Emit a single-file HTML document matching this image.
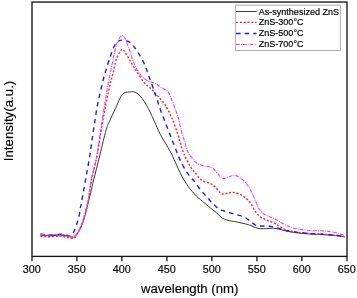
<!DOCTYPE html>
<html lang="en">
<head>
<meta charset="utf-8">
<title>PL spectra of ZnS</title>
<style>
html,body{margin:0;padding:0;background:#ffffff;}
body{width:357px;height:298px;overflow:hidden;}
</style>
</head>
<body>
<svg width="357" height="298" viewBox="0 0 357 298" style="display:block;will-change:transform">
<rect x="0" y="0" width="357" height="298" fill="#ffffff"/>
<g fill="none" stroke-linecap="butt" stroke-linejoin="round">
<path d="M40.5 235.4 C41.2 235.4 43.4 235.6 45.0 235.7 C46.6 235.8 48.3 235.8 50.0 235.8 C51.7 235.8 53.3 235.6 55.0 235.5 C56.7 235.4 58.5 235.1 60.0 235.1 C61.5 235.1 62.7 235.2 64.0 235.4 C65.3 235.6 66.7 236.0 68.0 236.3 C69.3 236.6 70.8 237.1 72.0 237.2 C73.2 237.2 74.2 237.2 75.0 236.6 C75.8 236.0 76.0 235.2 76.9 233.8 C77.8 232.4 79.4 230.3 80.5 228.2 C81.6 226.1 82.5 223.5 83.3 221.2 C84.1 218.8 84.8 216.5 85.4 214.1 C86.0 211.7 86.5 209.3 87.1 207.0 C87.7 204.7 87.9 204.3 88.9 200.0 C90.0 195.7 91.6 188.5 93.4 181.0 C95.2 173.5 97.8 163.5 99.9 155.0 C102.0 146.5 104.4 135.8 106.1 130.0 C107.8 124.2 108.4 123.7 110.0 120.1 C111.6 116.5 113.9 111.8 115.6 108.2 C117.2 104.6 118.7 100.7 119.9 98.3 C121.1 95.9 121.8 95.1 122.7 94.1 C123.6 93.1 124.3 92.8 125.5 92.4 C126.7 92.1 128.4 92.1 129.7 92.0 C131.0 91.9 132.0 91.5 133.2 91.7 C134.4 91.9 135.6 92.2 136.8 93.0 C138.0 93.8 139.0 94.7 140.3 96.2 C141.6 97.7 143.1 99.7 144.5 101.8 C145.9 103.9 147.3 106.7 148.5 108.9 C149.7 111.1 150.6 113.1 151.6 115.2 C152.6 117.3 153.0 118.3 154.4 121.5 C155.8 124.7 158.1 130.1 160.1 134.1 C162.1 138.1 164.7 141.9 166.7 145.3 C168.7 148.7 170.5 151.8 171.9 154.6 C173.3 157.3 173.4 158.2 175.1 161.8 C176.8 165.4 179.6 171.8 181.8 176.0 C184.1 180.2 186.3 183.8 188.6 187.0 C190.8 190.2 193.4 192.8 195.3 194.9 C197.2 197.0 198.7 198.2 200.3 199.6 C201.9 201.0 203.1 201.8 205.0 203.4 C206.9 205.0 209.9 207.5 211.7 209.0 C213.5 210.5 214.7 211.2 216.0 212.3 C217.3 213.4 218.3 214.8 219.4 215.8 C220.5 216.8 221.5 217.6 222.7 218.3 C223.9 219.0 225.3 219.5 226.8 220.0 C228.3 220.5 229.9 220.8 231.5 221.1 C233.1 221.4 234.4 221.5 236.2 221.8 C237.9 222.2 239.9 222.7 242.0 223.2 C244.1 223.7 246.5 224.0 248.7 224.7 C250.9 225.4 253.3 226.8 255.2 227.5 C257.1 228.2 258.4 228.5 260.3 228.7 C262.2 228.9 264.6 228.7 266.8 228.6 C269.0 228.5 271.5 228.1 273.5 228.2 C275.5 228.3 276.6 228.7 278.6 229.1 C280.6 229.5 282.8 230.2 285.3 230.8 C287.8 231.4 290.9 232.0 293.7 232.4 C296.5 232.8 299.4 233.1 302.1 233.4 C304.8 233.7 307.8 233.8 310.0 234.0 C312.2 234.2 312.6 234.2 315.2 234.3 C317.8 234.4 321.9 234.6 325.3 234.8 C328.7 235.0 332.1 235.2 335.3 235.6 C338.5 235.9 343.1 236.7 344.6 236.9" stroke="#383838" stroke-width="1.0"/>
<path d="M40.5 236.3 C41.2 236.4 43.4 236.5 45.0 236.6 C46.6 236.7 48.3 236.7 50.0 236.7 C51.7 236.7 53.3 236.5 55.0 236.4 C56.7 236.3 58.5 236.0 60.0 236.0 C61.5 236.0 62.7 236.2 64.0 236.5 C65.3 236.8 66.7 237.3 68.0 237.6 C69.3 237.9 70.8 238.3 72.0 238.3 C73.2 238.3 74.2 238.1 75.0 237.4 C75.8 236.7 76.2 235.8 77.0 234.3 C77.8 232.8 79.0 230.7 80.0 228.5 C81.0 226.3 82.1 223.6 82.9 221.2 C83.7 218.8 84.3 216.5 85.0 214.1 C85.7 211.7 86.2 209.3 86.8 207.0 C87.4 204.7 87.6 204.5 88.4 200.0 C89.2 195.5 90.0 187.5 91.5 180.0 C93.0 172.5 95.6 163.3 97.2 155.0 C98.8 146.7 99.8 138.3 101.2 130.0 C102.6 121.7 104.2 112.6 105.7 105.0 C107.2 97.4 108.9 89.4 110.1 84.2 C111.3 79.0 112.0 77.8 113.0 73.7 C114.0 69.6 115.3 62.6 116.1 59.7 C116.9 56.8 116.9 57.5 117.6 56.2 C118.3 54.9 119.5 52.7 120.1 51.7 C120.7 50.7 120.8 50.4 121.2 50.0 C121.6 49.6 121.9 49.2 122.3 49.2 C122.7 49.2 123.1 49.6 123.5 50.0 C123.9 50.4 124.1 50.8 124.7 51.7 C125.3 52.7 126.5 54.5 127.2 55.7 C128.0 57.0 128.6 58.2 129.2 59.2 C129.8 60.2 130.1 60.8 130.8 62.0 C131.5 63.2 132.5 64.9 133.5 66.5 C134.5 68.1 135.1 69.1 136.9 71.8 C138.7 74.5 141.8 79.8 144.3 82.7 C146.8 85.6 149.4 87.0 151.8 89.4 C154.2 91.8 156.5 94.6 158.6 97.0 C160.7 99.4 163.1 101.8 164.5 103.7 C165.9 105.7 166.0 106.2 167.3 108.7 C168.6 111.2 170.6 114.8 172.1 118.4 C173.6 122.0 175.1 126.4 176.4 130.2 C177.7 134.0 178.7 137.5 179.8 141.1 C180.9 144.7 182.0 148.6 183.0 151.5 C184.0 154.4 184.7 155.7 186.0 158.4 C187.3 161.1 189.5 165.1 191.1 167.6 C192.7 170.1 193.7 171.1 195.5 173.2 C197.3 175.3 199.3 178.5 201.7 180.2 C204.1 181.9 207.8 182.4 210.1 183.5 C212.3 184.6 213.5 185.3 215.2 186.9 C216.9 188.5 218.7 191.6 220.2 192.8 C221.7 194.0 223.0 194.1 224.4 194.1 C225.8 194.1 227.1 193.1 228.6 192.8 C230.1 192.5 231.9 192.3 233.7 192.5 C235.5 192.7 237.6 193.1 239.5 194.0 C241.4 194.9 243.6 196.3 245.4 197.8 C247.2 199.3 249.0 200.8 250.6 203.0 C252.2 205.2 253.4 208.6 255.0 210.9 C256.6 213.2 258.1 215.2 260.1 216.8 C262.1 218.4 264.6 219.2 266.8 220.2 C269.0 221.2 271.2 221.6 273.5 222.7 C275.8 223.8 278.1 225.6 280.3 226.9 C282.6 228.2 284.8 229.5 287.0 230.3 C289.2 231.1 291.2 231.2 293.7 231.6 C296.2 232.0 299.4 232.5 302.1 232.8 C304.8 233.1 307.8 233.4 310.0 233.6 C312.2 233.8 312.6 233.8 315.2 233.9 C317.8 234.0 321.9 234.2 325.3 234.4 C328.7 234.6 332.1 234.8 335.3 235.2 C338.5 235.6 343.1 236.4 344.6 236.7" stroke="#ff2222" stroke-width="1.4" stroke-dasharray="2 1.8"/>
<path d="M40.5 233.9 C41.2 234.0 43.4 234.4 45.0 234.6 C46.6 234.8 48.3 235.0 50.0 235.0 C51.7 235.0 53.3 234.9 55.0 234.8 C56.7 234.7 58.5 234.2 60.0 234.2 C61.5 234.2 62.7 234.5 64.0 234.7 C65.3 234.9 66.9 235.4 68.0 235.6 C69.1 235.8 69.7 236.0 70.5 235.8 C71.3 235.6 72.1 234.8 72.6 234.2 C73.1 233.6 73.1 233.2 73.6 232.2 C74.1 231.2 74.8 230.0 75.5 228.2 C76.2 226.4 76.9 223.5 77.6 221.2 C78.3 218.8 79.0 216.5 79.5 214.1 C80.0 211.7 80.2 208.9 80.5 207.0 C80.8 205.1 80.6 207.3 81.4 202.8 C82.2 198.3 84.1 188.0 85.5 180.0 C86.9 172.0 88.6 163.3 89.9 155.0 C91.2 146.7 92.2 138.3 93.5 130.0 C94.8 121.7 95.9 113.3 97.5 105.0 C99.1 96.7 101.8 85.8 103.2 80.0 C104.6 74.2 104.8 74.2 105.9 70.4 C107.1 66.6 108.7 61.0 110.1 56.9 C111.5 52.8 112.9 48.6 114.3 46.0 C115.7 43.4 117.2 42.0 118.5 41.0 C119.8 40.0 120.5 40.1 121.8 40.1 C123.0 40.1 124.6 40.4 126.0 40.8 C127.4 41.2 128.6 41.2 130.3 42.6 C132.0 44.0 134.3 46.9 136.1 49.4 C137.9 51.9 139.6 55.0 141.2 57.8 C142.8 60.6 144.3 63.6 145.4 66.2 C146.5 68.9 147.0 71.1 147.9 73.7 C148.8 76.3 149.9 78.8 151.0 81.8 C152.1 84.8 153.4 89.1 154.4 91.9 C155.4 94.7 156.1 96.2 156.9 98.7 C157.7 101.2 158.2 103.4 159.4 107.0 C160.7 110.6 162.6 115.4 164.4 120.1 C166.2 124.8 168.6 131.0 170.3 135.3 C172.0 139.7 173.2 143.0 174.5 146.2 C175.8 149.4 176.7 152.0 177.8 154.6 C178.9 157.2 179.6 159.1 181.0 161.8 C182.4 164.5 184.3 168.3 186.0 171.0 C187.7 173.7 189.5 175.7 191.1 177.7 C192.7 179.7 193.9 180.7 195.5 182.8 C197.1 184.9 199.0 188.0 200.9 190.3 C202.8 192.6 204.8 194.5 206.7 196.7 C208.6 198.9 210.6 201.4 212.6 203.4 C214.6 205.4 216.9 207.7 218.5 208.9 C220.1 210.1 221.0 209.9 222.4 210.4 C223.8 210.9 224.9 211.2 227.1 211.9 C229.3 212.6 232.6 213.6 235.4 214.4 C238.2 215.2 241.2 215.7 243.7 216.8 C246.2 217.9 248.3 219.7 250.2 221.0 C252.1 222.3 253.5 224.1 255.2 224.9 C256.9 225.7 258.4 225.8 260.3 226.0 C262.2 226.2 264.6 225.8 266.8 226.0 C269.0 226.2 271.2 226.4 273.5 226.9 C275.8 227.4 278.1 228.2 280.3 228.9 C282.6 229.6 284.8 230.3 287.0 230.8 C289.2 231.3 291.2 231.6 293.7 231.9 C296.2 232.2 299.4 232.5 302.1 232.8 C304.8 233.1 307.8 233.4 310.0 233.6 C312.2 233.8 312.6 233.8 315.2 233.9 C317.8 234.0 321.9 234.2 325.3 234.4 C328.7 234.6 332.1 234.8 335.3 235.2 C338.5 235.6 343.1 236.4 344.6 236.7" stroke="#1a1aff" stroke-width="1.4" stroke-dasharray="4.5 4.1"/>
<path d="M40.5 234.4 C41.2 234.4 43.4 234.6 45.0 234.7 C46.6 234.8 48.3 234.8 50.0 234.8 C51.7 234.8 53.3 234.6 55.0 234.5 C56.7 234.4 58.5 234.1 60.0 234.1 C61.5 234.1 62.7 234.2 64.0 234.5 C65.3 234.8 66.7 235.4 68.0 235.8 C69.3 236.2 70.9 236.8 72.0 236.9 C73.1 237.0 73.7 236.9 74.5 236.4 C75.3 235.9 75.7 235.2 76.6 233.8 C77.5 232.4 79.0 230.3 80.0 228.2 C81.0 226.1 82.0 223.5 82.8 221.2 C83.6 218.8 84.3 216.5 84.9 214.1 C85.5 211.7 86.0 209.3 86.6 207.0 C87.1 204.7 87.4 204.5 88.2 200.0 C89.0 195.5 89.7 187.5 91.2 180.0 C92.7 172.5 95.4 163.3 97.0 155.0 C98.6 146.7 99.5 138.3 100.8 130.0 C102.1 121.7 103.3 113.0 104.6 105.0 C105.9 97.0 107.5 87.2 108.4 82.0 C109.3 76.8 109.4 77.6 110.2 73.7 C111.0 69.8 112.6 61.9 113.2 58.6 C113.8 55.4 113.6 56.3 114.1 54.2 C114.6 52.1 115.3 48.7 116.1 46.1 C116.9 43.5 118.3 40.2 119.1 38.6 C119.8 37.0 120.1 37.0 120.6 36.4 C121.1 35.8 121.5 35.3 121.9 35.3 C122.4 35.3 122.8 35.7 123.3 36.2 C123.8 36.8 124.5 37.1 125.2 38.6 C125.9 40.1 126.8 42.7 127.7 45.1 C128.6 47.5 129.9 50.8 130.7 53.2 C131.5 55.6 131.7 57.3 132.5 59.5 C133.3 61.7 134.5 64.5 135.5 66.5 C136.5 68.5 137.1 69.9 138.4 71.8 C139.7 73.7 141.5 76.2 143.1 77.7 C144.7 79.2 146.6 80.2 148.2 81.0 C149.8 81.8 151.2 82.0 152.6 82.5 C154.0 83.0 155.2 83.4 156.5 84.1 C157.8 84.8 158.7 85.7 160.1 86.6 C161.5 87.5 163.8 88.7 165.1 89.6 C166.4 90.5 167.2 90.8 168.1 91.8 C168.9 92.8 169.6 94.3 170.2 95.6 C170.8 96.9 171.2 98.4 171.7 99.7 C172.2 101.0 172.7 101.9 173.2 103.2 C173.7 104.5 173.9 105.3 174.7 107.7 C175.5 110.1 177.1 113.8 178.2 117.6 C179.3 121.3 180.1 126.1 181.2 130.2 C182.3 134.3 183.7 138.4 184.8 142.0 C185.9 145.6 186.6 149.1 187.7 151.5 C188.8 153.9 189.7 154.8 191.1 156.7 C192.5 158.5 194.0 161.1 196.1 162.6 C198.2 164.1 200.8 165.1 203.4 165.9 C206.0 166.7 209.6 166.5 211.8 167.6 C214.0 168.7 215.2 170.9 216.8 172.6 C218.4 174.3 219.8 176.6 221.1 177.6 C222.4 178.6 223.0 178.7 224.4 178.5 C225.8 178.3 228.1 177.0 229.5 176.5 C230.9 176.0 231.9 175.8 233.0 175.7 C234.1 175.5 234.6 175.2 235.9 175.6 C237.2 176.0 239.0 177.1 240.6 178.2 C242.2 179.3 243.9 180.9 245.3 182.4 C246.7 183.9 247.7 185.4 248.8 187.1 C249.9 188.8 250.9 190.7 251.8 192.4 C252.7 194.2 253.3 195.8 254.1 197.6 C254.9 199.4 255.7 201.6 256.5 203.5 C257.4 205.4 257.9 207.4 259.2 209.2 C260.5 211.0 262.2 212.9 264.3 214.3 C266.4 215.7 269.4 216.5 271.8 217.6 C274.2 218.7 276.2 219.7 278.6 221.0 C281.0 222.3 283.6 224.0 286.1 225.2 C288.6 226.4 291.0 227.4 293.7 228.2 C296.4 228.9 299.4 229.3 302.1 229.7 C304.8 230.1 307.8 230.3 310.0 230.5 C312.2 230.7 312.6 230.6 315.2 230.7 C317.8 230.8 321.9 230.7 325.3 231.0 C328.7 231.3 332.1 232.0 335.3 232.7 C338.5 233.4 343.1 234.9 344.6 235.4" stroke="#e83cff" stroke-width="1.1" stroke-dasharray="3.7 1.2 0.9 1.0"/>
</g>
<g fill="none" stroke="#161616" stroke-width="1.35">
<rect x="32.00" y="2.05" width="315.00" height="254.35"/>
<line x1="32.00" y1="256.40" x2="32.00" y2="261.30" stroke-width="1.3"/>
<line x1="76.90" y1="256.40" x2="76.90" y2="261.30" stroke-width="1.3"/>
<line x1="121.90" y1="256.40" x2="121.90" y2="261.30" stroke-width="1.3"/>
<line x1="166.90" y1="256.40" x2="166.90" y2="261.30" stroke-width="1.3"/>
<line x1="211.90" y1="256.40" x2="211.90" y2="261.30" stroke-width="1.3"/>
<line x1="256.90" y1="256.40" x2="256.90" y2="261.30" stroke-width="1.3"/>
<line x1="301.90" y1="256.40" x2="301.90" y2="261.30" stroke-width="1.3"/>
<line x1="347.00" y1="256.40" x2="347.00" y2="261.30" stroke-width="1.3"/>
</g>
<g font-family="'Liberation Sans', Arial, sans-serif" fill="#000000" stroke="#000" stroke-width="0.15">
<text x="31.8" y="272.7" font-size="10.8" text-anchor="middle">300</text>
<text x="76.8" y="272.7" font-size="10.8" text-anchor="middle">350</text>
<text x="121.8" y="272.7" font-size="10.8" text-anchor="middle">400</text>
<text x="166.8" y="272.7" font-size="10.8" text-anchor="middle">450</text>
<text x="211.8" y="272.7" font-size="10.8" text-anchor="middle">500</text>
<text x="256.8" y="272.7" font-size="10.8" text-anchor="middle">550</text>
<text x="301.8" y="272.7" font-size="10.8" text-anchor="middle">600</text>
<text x="346.8" y="272.7" font-size="10.8" text-anchor="middle">650</text>
<text x="189.7" y="292.9" font-size="13.2" text-anchor="middle">wavelength (nm)</text>
<text transform="translate(12.7,121) rotate(-90)" font-size="13.3" text-anchor="middle">Intensity(a.u.)</text>
</g>
<rect x="235.3" y="5.1" width="105" height="45.3" fill="#ffffff" stroke="#999999" stroke-width="0.8"/>
<g fill="none">
<line x1="236.1" y1="11.5" x2="256.6" y2="11.5" stroke="#383838" stroke-width="1.0"/>
<line x1="236.1" y1="22.4" x2="256.6" y2="22.4" stroke="#ff2222" stroke-width="1.4" stroke-dasharray="2 1.8"/>
<line x1="236.1" y1="33.5" x2="256.6" y2="33.5" stroke="#1a1aff" stroke-width="1.4" stroke-dasharray="4.5 4.1"/>
<line x1="236.1" y1="44.5" x2="256.6" y2="44.5" stroke="#e83cff" stroke-width="1.1" stroke-dasharray="3.7 1.2 0.9 1.0"/>
</g>
<g font-family="'Liberation Sans', Arial, sans-serif" fill="#000000" font-size="9.02" stroke="#000" stroke-width="0.18">
<text x="258.8" y="14.6">As-synthesized ZnS</text>
<text x="258.8" y="25.4">ZnS-300°C</text>
<text x="258.8" y="36.3">ZnS-500°C</text>
<text x="258.8" y="47.1">ZnS-700°C</text>
</g>
</svg>
</body>
</html>
